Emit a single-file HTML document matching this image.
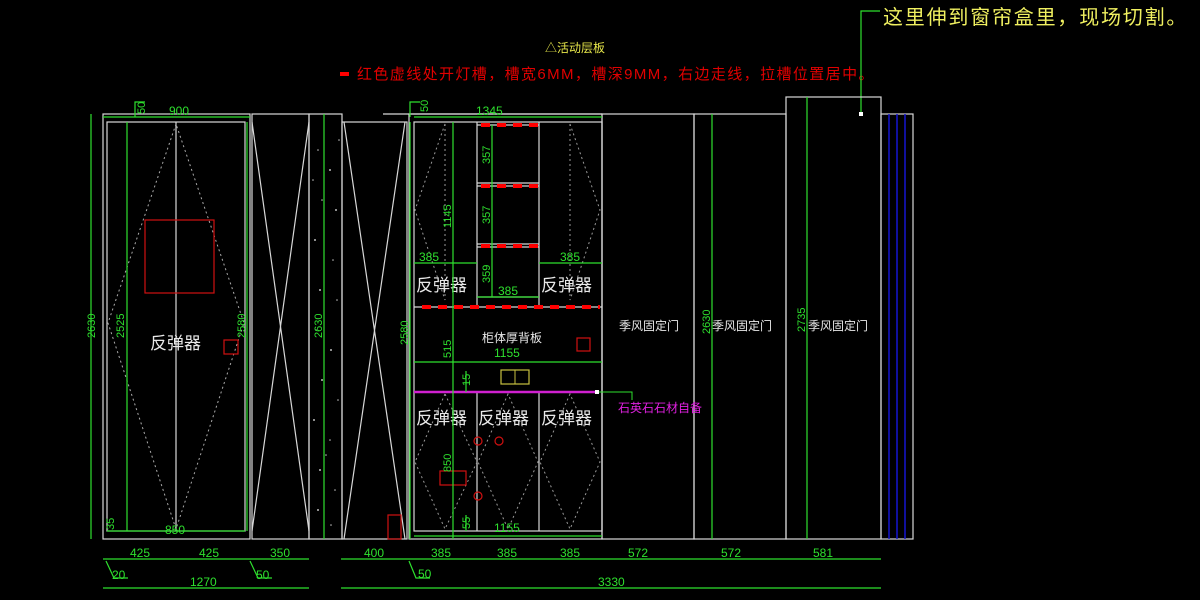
<!DOCTYPE html>
<html><head><meta charset="utf-8"><style>
html,body{margin:0;padding:0;background:#000;width:1200px;height:600px;overflow:hidden}
text{font-family:"Liberation Sans","Noto Sans CJK SC",sans-serif}
</style></head><body>
<svg width="1200" height="600" viewBox="0 0 1200 600" xmlns="http://www.w3.org/2000/svg">
<rect width="1200" height="600" fill="#000"/>
<text x="545" y="52" fill="#e6e64a" font-size="12">△活动层板</text>
<rect x="340" y="72" width="9" height="4" fill="#f00"/>
<text x="357" y="79" fill="#e00000" font-size="15" letter-spacing="1.4" font-family="Liberation Serif,Noto Serif CJK SC,serif">红色虚线处开灯槽，槽宽6MM，槽深9MM，右边走线，拉槽位置居中。</text>
<text x="883" y="24" fill="#f0f060" font-size="20" letter-spacing="1.8" font-family="Liberation Serif,Noto Serif CJK SC,serif">这里伸到窗帘盒里，现场切割。</text>
<polyline points="880,11 861,11 861,114" fill="none" stroke="#2ee02e" stroke-width="1.2"/>
<rect x="859" y="112" width="4" height="4" fill="#fff"/>

<g fill="none" stroke="#d8d8d8" stroke-width="1.2">
<rect x="103" y="114" width="147" height="425"/>
<rect x="107" y="122" width="138" height="409"/>
<line x1="176" y1="122" x2="176" y2="531"/>
<polygon points="176,124 108,323 176,529 244,323" stroke-dasharray="2,3" stroke="#aaa" stroke-width="1"/>
<rect x="252" y="114" width="57" height="425"/>
<polyline points="252,122 309,531"/><polyline points="309,122 252,531"/>
<rect x="309" y="114" width="33" height="425"/>
<rect x="342" y="122" width="65" height="417"/>
<polyline points="344,122 405,539"/><polyline points="405,122 344,539"/>
<line x1="383" y1="114" x2="602" y2="114"/>
<rect x="409" y="114" width="193" height="425"/>
<rect x="414" y="122" width="188" height="409"/>
<line x1="477" y1="122" x2="477" y2="307"/><line x1="539" y1="122" x2="539" y2="307"/>
<line x1="477" y1="125" x2="539" y2="125"/>
<line x1="477" y1="183" x2="539" y2="183"/><line x1="477" y1="186" x2="539" y2="186"/>
<line x1="477" y1="244" x2="539" y2="244"/><line x1="477" y1="247" x2="539" y2="247"/>
<line x1="477" y1="297" x2="539" y2="297"/>
<line x1="414" y1="307" x2="602" y2="307"/>
<line x1="477" y1="392" x2="477" y2="531"/><line x1="539" y1="392" x2="539" y2="531"/>
<g stroke="#999" stroke-width="1" stroke-dasharray="2,3">
<polygon points="445,124 415,210 445,300"/><polygon points="570,124 600,210 570,300"/>
<polygon points="445,394 415,462 445,529 477,462"/><polygon points="508,394 478,462 508,529 538,462"/><polygon points="570,394 540,462 570,529 600,462"/>
</g>
<rect x="602" y="114" width="92" height="425"/>
<rect x="694" y="114" width="92" height="425"/>
<rect x="786" y="97" width="95" height="442"/>
<rect x="881" y="114" width="32" height="425"/>
</g>
<g stroke="#1515d0" stroke-width="1.5"><line x1="889" y1="114" x2="889" y2="539"/><line x1="897" y1="114" x2="897" y2="539"/><line x1="905" y1="114" x2="905" y2="539"/></g>
<g fill="#bbb">
<circle cx="318" cy="150" r="0.8"/><circle cx="330" cy="170" r="1"/><circle cx="322" cy="200" r="0.8"/><circle cx="336" cy="210" r="1"/><circle cx="315" cy="240" r="1"/><circle cx="333" cy="260" r="0.8"/><circle cx="320" cy="290" r="1"/><circle cx="337" cy="300" r="0.8"/><circle cx="316" cy="330" r="0.8"/><circle cx="331" cy="350" r="1"/><circle cx="322" cy="380" r="1"/><circle cx="338" cy="400" r="0.8"/><circle cx="314" cy="420" r="1"/><circle cx="330" cy="440" r="0.8"/><circle cx="320" cy="470" r="1"/><circle cx="335" cy="490" r="0.8"/><circle cx="318" cy="510" r="1"/><circle cx="331" cy="525" r="0.8"/><circle cx="313" cy="180" r="0.8"/><circle cx="339" cy="140" r="0.8"/><circle cx="326" cy="455" r="0.8"/>
</g>
<g fill="none" stroke="#d01010" stroke-width="1.2">
<rect x="145" y="220" width="69" height="73"/><rect x="224" y="340" width="14" height="14"/>
<rect x="388" y="515" width="13" height="24"/><rect x="577" y="338" width="13" height="13"/>
<rect x="440" y="471" width="26" height="14"/>
<circle cx="478" cy="441" r="4"/><circle cx="499" cy="441" r="4"/><circle cx="478" cy="496" r="4"/>
</g>
<g stroke="#ff0000" stroke-width="4" stroke-dasharray="9,7">
<line x1="481" y1="125" x2="539" y2="125"/><line x1="481" y1="186" x2="539" y2="186"/><line x1="481" y1="246" x2="539" y2="246"/>
<line x1="422" y1="307" x2="600" y2="307"/>
</g>
<rect x="501" y="370" width="28" height="14" fill="none" stroke="#c8c040" stroke-width="1.2"/><line x1="515" y1="370" x2="515" y2="384" stroke="#c8c040"/>
<line x1="414" y1="392" x2="597" y2="392" stroke="#d020d0" stroke-width="2.5"/>
<rect x="595" y="390" width="4" height="4" fill="#fff"/>
<polyline points="599,392 632,392 632,400" fill="none" stroke="#2ee02e"/>
<text x="618" y="412" fill="#e020e0" font-size="12">石英石石材自备</text>

<g fill="#e8e8e8" font-size="17">
<text x="150" y="349">反弹器</text>
<text x="416" y="291">反弹器</text><text x="541" y="291">反弹器</text>
<text x="416" y="424">反弹器</text><text x="478" y="424">反弹器</text><text x="541" y="424">反弹器</text>
</g>
<g fill="#e8e8e8" font-size="12">
<text x="482" y="342">柜体厚背板</text>
<text x="619" y="330">季风固定门</text><text x="712" y="330">季风固定门</text><text x="808" y="330">季风固定门</text>
</g>

<g stroke="#2ee02e" stroke-width="1.2" fill="none">
<line x1="91" y1="114" x2="91" y2="539"/><line x1="127" y1="122" x2="127" y2="531"/><line x1="247" y1="122" x2="247" y2="531"/>
<line x1="324" y1="114" x2="324" y2="539"/><line x1="410" y1="122" x2="410" y2="539"/>
<line x1="453" y1="122" x2="453" y2="539"/><line x1="492" y1="125" x2="492" y2="297"/>
<line x1="712" y1="114" x2="712" y2="539"/><line x1="807" y1="97" x2="807" y2="539"/>
<line x1="103" y1="117" x2="250" y2="117"/><line x1="107" y1="531" x2="245" y2="531"/>
<line x1="414" y1="117" x2="602" y2="117"/>
<line x1="414" y1="263" x2="477" y2="263"/><line x1="539" y1="263" x2="602" y2="263"/><line x1="477" y1="297" x2="539" y2="297"/>
<line x1="414" y1="362" x2="602" y2="362"/><line x1="414" y1="536" x2="602" y2="536"/>
<polyline points="135,117 135,102 145,102"/><polyline points="410,117 410,102 420,102"/>
<line x1="103" y1="559" x2="309" y2="559"/><line x1="341" y1="559" x2="881" y2="559"/>
<line x1="103" y1="588" x2="309" y2="588"/><line x1="341" y1="588" x2="881" y2="588"/>
<polyline points="106,561 114,578 128,578"/><polyline points="250,561 258,578 272,578"/><polyline points="409,561 416,578 430,578"/>
<polyline points="466,371 466,392"/><polyline points="466,515 466,531"/>
</g>
<g fill="#2ee02e" font-size="12">
<text x="169" y="115">900</text><text x="165" y="534">850</text>
<text x="476" y="115">1345</text>
<text x="419" y="261">385</text><text x="560" y="261">385</text><text x="498" y="295">385</text>
<text x="494" y="357">1155</text><text x="494" y="532">1155</text>
<text x="130" y="557">425</text><text x="199" y="557">425</text><text x="270" y="557">350</text><text x="364" y="557">400</text>
<text x="431" y="557">385</text><text x="497" y="557">385</text><text x="560" y="557">385</text>
<text x="628" y="557">572</text><text x="721" y="557">572</text><text x="813" y="557">581</text>
<text x="112" y="579">20</text><text x="256" y="579">50</text><text x="418" y="578">50</text>
<text x="190" y="586">1270</text><text x="598" y="586">3330</text>
</g>
<g fill="#2ee02e" font-size="11">
<text transform="translate(95,338) rotate(-90)">2630</text>
<text transform="translate(124,338) rotate(-90)">2525</text>
<text transform="translate(245,338) rotate(-90)">2580</text>
<text transform="translate(322,338) rotate(-90)">2630</text>
<text transform="translate(408,345) rotate(-90)">2580</text>
<text transform="translate(451,228) rotate(-90)">1145</text>
<text transform="translate(451,358) rotate(-90)">515</text>
<text transform="translate(451,472) rotate(-90)">850</text>
<text transform="translate(490,164) rotate(-90)">357</text>
<text transform="translate(490,224) rotate(-90)">357</text>
<text transform="translate(490,283) rotate(-90)">359</text>
<text transform="translate(710,334) rotate(-90)">2630</text>
<text transform="translate(805,332) rotate(-90)">2735</text>
<text transform="translate(145,114) rotate(-90)">50</text>
<text transform="translate(428,112) rotate(-90)">50</text>
<text transform="translate(470,386) rotate(-90)">15</text>
<text transform="translate(470,529) rotate(-90)">55</text>
<text transform="translate(114,530) rotate(-90)">35</text>
</g>
</svg>
</body></html>
